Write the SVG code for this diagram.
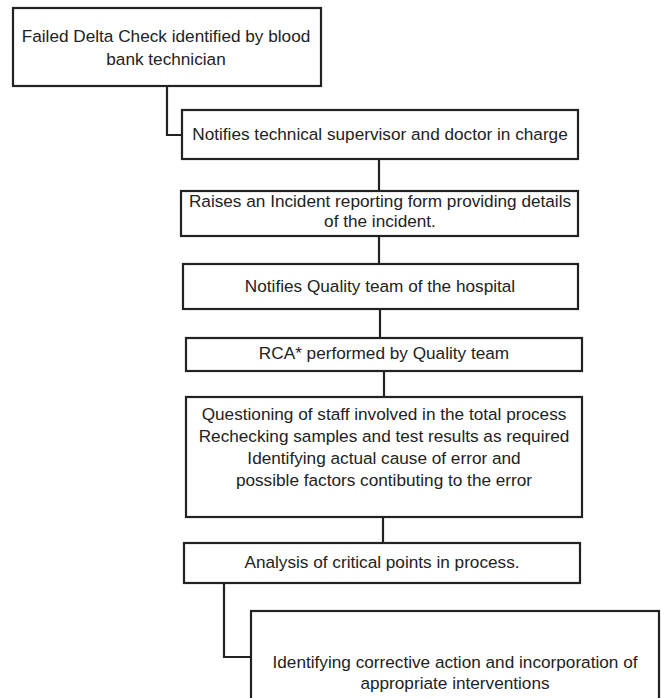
<svg xmlns="http://www.w3.org/2000/svg" width="661" height="698" viewBox="0 0 661 698">
<style>
.box{fill:#fff;stroke:#222;stroke-width:2.2}
.c{fill:none;stroke:#222;stroke-width:2.2}
text{font-family:"Liberation Sans",Arial,sans-serif;font-size:17.2px;fill:#222;text-anchor:middle}
</style>
<rect width="661" height="698" fill="#fff"/>
<g id="connectors">
<path class="c" d="M167,86 V135 H182"/>
<path class="c" d="M379,159 V191"/>
<path class="c" d="M379,236 V264"/>
<path class="c" d="M380,309 V338"/>
<path class="c" d="M384,371 V397"/>
<path class="c" d="M383,517 V543"/>
<path class="c" d="M224,583 V657 H251"/>
</g>
<g id="n1"><rect class="box" x="13" y="8" width="308" height="78"/><text x="166" y="42">Failed Delta Check identified by blood</text><text x="166" y="65">bank technician</text></g>
<g id="n2"><rect class="box" x="182" y="110" width="396" height="49"/><text x="380" y="140">Notifies technical supervisor and doctor in charge</text></g>
<g id="n3"><rect class="box" x="181" y="191" width="397" height="45"/><text x="380" y="207">Raises an Incident reporting form providing details</text><text x="380" y="227">of the incident.</text></g>
<g id="n4"><rect class="box" x="183" y="264" width="395" height="45"/><text x="380" y="292">Notifies Quality team of the hospital</text></g>
<g id="n5"><rect class="box" x="186" y="338" width="396" height="33"/><text x="384" y="359">RCA* performed by Quality team</text></g>
<g id="n6"><rect class="box" x="186" y="397" width="396" height="120"/><text x="384" y="420">Questioning of staff involved in the total process</text><text x="384" y="442">Rechecking samples and test results as required</text><text x="384" y="464">Identifying actual cause of error and</text><text x="384" y="486">possible factors contibuting to the error</text></g>
<g id="n7"><rect class="box" x="184" y="543" width="396" height="40"/><text x="382" y="568">Analysis of critical points in process.</text></g>
<g id="n8"><rect class="box" x="251" y="611" width="408" height="100"/><text x="455" y="668">Identifying corrective action and incorporation of</text><text x="455" y="689">appropriate interventions</text></g>
</svg>
